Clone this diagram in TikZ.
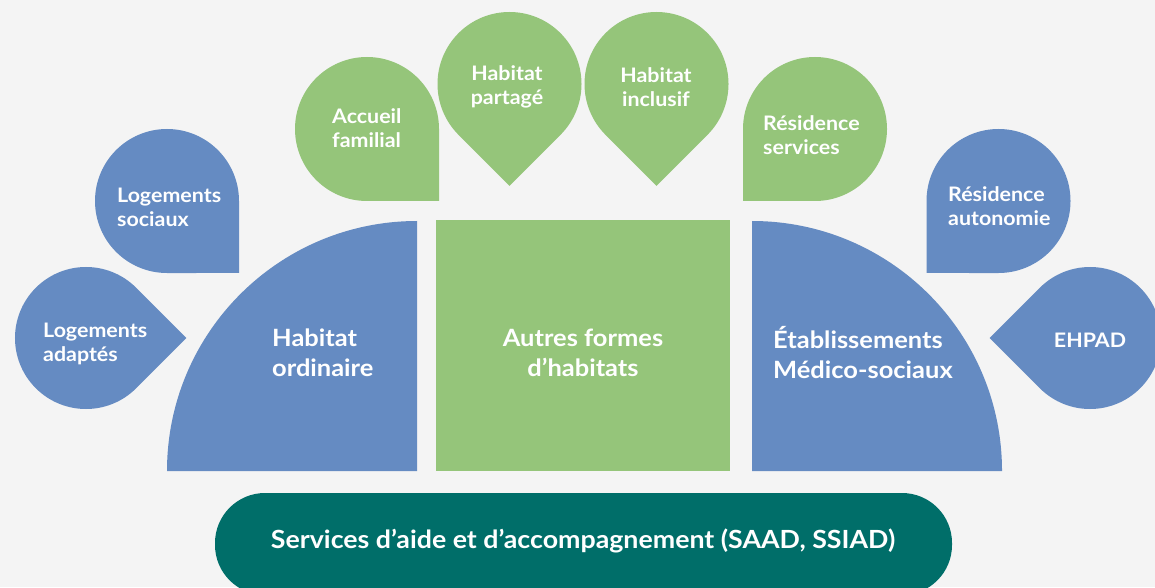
\documentclass[tikz,border=0pt]{standalone}
\usepackage{fontspec}
\setmainfont{Lato}[FakeStretch=1.07]
\usetikzlibrary{positioning}

\definecolor{fond}{HTML}{F4F4F4}
\definecolor{bleu}{HTML}{658BC2}
\definecolor{vert}{HTML}{95C57A}
\definecolor{canard}{HTML}{006E69}

\tikzstyle{petitTexte} = [text=white, inner sep=0pt, align=left, font=\bfseries\fontsize{20}{24}\selectfont]
\tikzstyle{grandTexte} = [text=white, inner sep=0pt, align=left, font=\bfseries\fontsize{23.8}{30}\selectfont]
\tikzstyle{basTexte} = [text=white, inner sep=0pt, font=\bfseries\fontsize{25}{28}\selectfont]

% goutte : centre, rayon, direction de la pointe, couleur
\newcommand{\goutte}[4]{\fill[#4, shift={(#1)}, rotate=#3] (0:{1.4142*#2pt}) -- (45:#2pt) arc[start angle=45, end angle=315, radius=#2pt] -- cycle;}

\begin{document}
\begin{tikzpicture}[x=1pt, y=1pt]

    \fill[fond] (0,0) rectangle (1155,587);
    \clip (0,0) rectangle (1155,587);

    \fill[bleu] (417,116) -- (167,116) arc[start angle=180, end angle=90, radius=250pt] -- cycle;
    \fill[vert] (436,116) rectangle (730,367);
    \fill[bleu] (752,116) -- (752,366) arc[start angle=90, end angle=0, radius=250pt] -- cycle;
    \fill[canard, rounded corners=50pt] (215,-8) rectangle (952,94);

    \goutte{167,386}{72}{-45}{bleu}
    \goutte{86,249}{71}{0}{bleu}
    \goutte{367,458}{72}{-45}{vert}
    \goutte{509.5,503}{72}{-90}{vert}
    \goutte{656.5,503}{72}{-90}{vert}
    \goutte{815,458}{72}{-135}{vert}
    \goutte{998.5,386}{72}{-135}{bleu}
    \goutte{1090,249}{71}{180}{bleu}

    \node[grandTexte, anchor=west] (ordinaire) at (272,234) {Habitat\\ordinaire};
    \node[grandTexte, align=center] (autres) at (583,234) {Autres formes\\d’habitats};
    \node[grandTexte, anchor=west] (medico) at (773,234) {Établissements\\Médico-sociaux};
    \node[basTexte] (services) at (583,46) {Services d’aide et d’accompagnement (SAAD, SSIAD)};

    \node[petitTexte, anchor=west] (sociaux) at (117,380) {Logements\\sociaux};
    \node[petitTexte, anchor=west] (adaptes) at (43,243) {Logements\\adaptés};
    \node[petitTexte, anchor=west] (familial) at (332,459) {Accueil\\familial};
    \node[petitTexte, align=center] (partage) at (507,500) {Habitat\\partagé};
    \node[petitTexte, align=center] (inclusif) at (656,500) {Habitat\\inclusif};
    \node[petitTexte, anchor=west] (rservices) at (763,452) {Résidence\\services};
    \node[petitTexte, anchor=west] (autonomie) at (948,381) {Résidence\\autonomie};
    \node[petitTexte] (ehpad) at (1090,247) {EHPAD};

\end{tikzpicture}
\end{document}
